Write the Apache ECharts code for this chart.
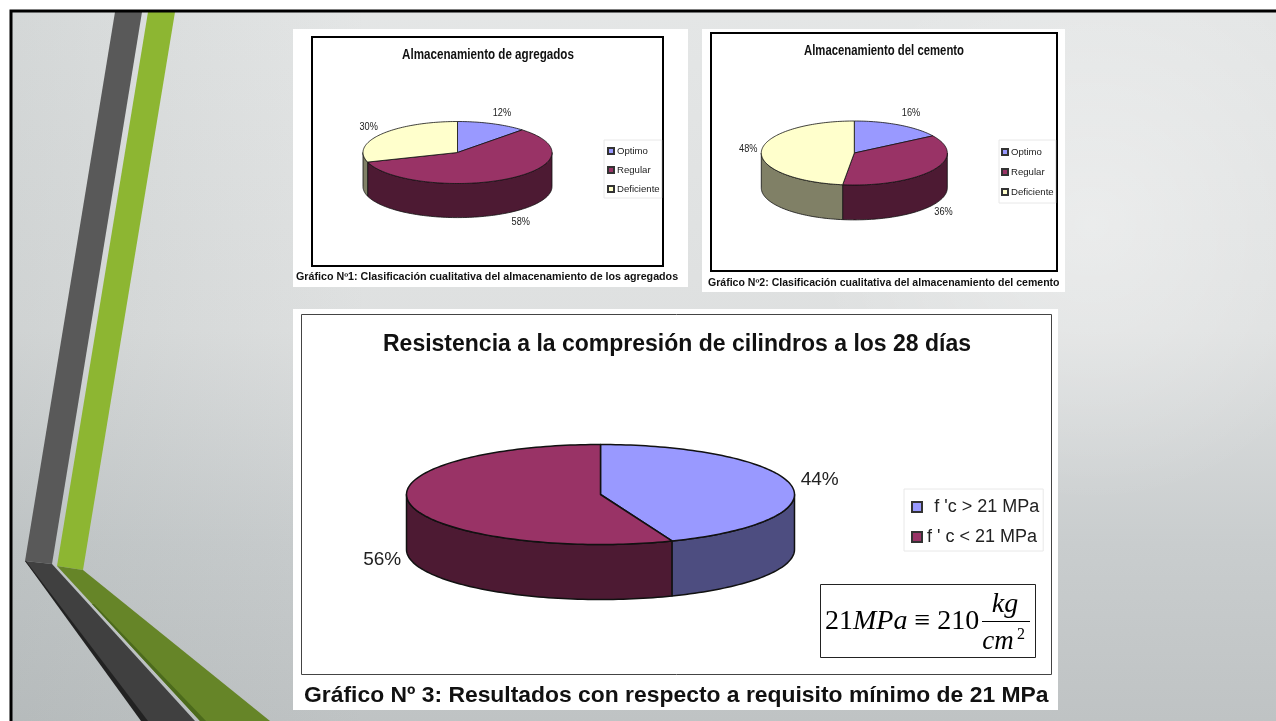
<!DOCTYPE html>
<html>
<head>
<meta charset="utf-8">
<style>html,body{margin:0;padding:0;background:#fff}#c{width:1276px;height:721px}</style>
<script src="https://cdn.jsdelivr.net/npm/echarts@6/dist/echarts.min.js"></script>
</head>
<body>
<div id="c"></div>
<script>
// ---- data ----
const storageCategories = ['Optimo', 'Regular', 'Deficiente'];
const aggregateValues = [12, 58, 30];
const cementValues = [16, 36, 48];
const strengthCategories = ['\u2009\u2009f \'c > 21 MPa', 'f \' c < 21 MPa'];
const strengthValues = [44, 56];
const aggregateTitle = 'Almacenamiento de agregados';
const cementTitle = 'Almacenamiento del cemento';
const strengthTitle = 'Resistencia a la compresión de cilindros a los 28 días';
const aggregateCaption = 'Gráfico Nº1: Clasificación cualitativa del almacenamiento de los agregados';
const cementCaption = 'Gráfico Nº2: Clasificación cualitativa del almacenamiento del cemento';
const strengthCaption = 'Gráfico Nº 3: Resultados con respecto a requisito mínimo de 21 MPa';

// ---- styling / layout ----
const topColors = ['#9999FF', '#993366', '#FFFFCC'];
const sideColors = ['#4D4D80', '#4D1A33', '#808066'];
const SANS = '"Liberation Sans",Arial,sans-serif';
const SERIF = '"Liberation Serif","Times New Roman",serif';

const charts = [
  {box: {cx: 457.5, cy: 152.5, rx: 94.5, ry: 31}, depth: 1.1, values: aggregateValues, names: storageCategories,
   labelAt: [[.47, 1.28], [.67, -2.24], [-.94, .82]], size: 11.5, squeeze: .8, line: .8},
  {box: {cx: 854.3, cy: 153, rx: 93, ry: 32}, depth: 1.09, values: cementValues, names: storageCategories,
   labelAt: [[.61, 1.25], [.96, -1.84], [-1.14, .12]], size: 11.5, squeeze: .8, line: .8},
  {box: {cx: 600.5, cy: 494.5, rx: 194, ry: 50}, depth: 1.1, values: strengthValues, names: strengthCategories,
   labelAt: [[1.13, .3], [-1.125, -1.3]], size: 19, squeeze: 1, line: 1.5}
];

function sliceSeries(chart, chartIndex) {
  const total = chart.values.reduce((a, b) => a + b, 0);
  let running = 0;
  return chart.values.map((value, i) => {
    const startDeg = running / total * 360;
    running += value;
    const endDeg = running / total * 360;
    const renderItem = (params, api) => {
      const rim = (deg, drop) => {
        const a = deg * Math.PI / 180;
        return api.coord([Math.sin(a), Math.cos(a) - drop]);
      };
      const arc = (from, to, drop) => {
        const pts = [];
        const n = Math.max(2, Math.ceil((to - from) / 1.5));
        for (let k = 0; k <= n; k++) pts.push(rim(from + (to - from) * k / n, drop));
        return pts;
      };
      const children = [];
      const sideFrom = Math.max(startDeg, 90), sideTo = Math.min(endDeg, 270);
      if (sideTo > sideFrom) {
        children.push({
          type: 'polygon',
          shape: {points: arc(sideFrom, sideTo, 0).concat(arc(sideFrom, sideTo, chart.depth).reverse())},
          style: {fill: sideColors[i], stroke: '#111', lineWidth: chart.line, lineJoin: 'round'}
        });
      }
      children.push({
        type: 'polygon',
        shape: {points: [api.coord([0, 0])].concat(arc(startDeg, endDeg, 0))},
        style: {fill: topColors[i], stroke: '#111', lineWidth: chart.line, lineJoin: 'round'}
      });
      const at = api.coord(chart.labelAt[i]);
      children.push({
        type: 'text', x: at[0], y: at[1], scaleX: chart.squeeze,
        style: {text: api.value(2) + '%', fill: '#222',
          font: chart.size + 'px ' + SANS, textAlign: 'center', textVerticalAlign: 'middle'}
      });
      return {type: 'group', children};
    };
    return {
      type: 'custom', name: chart.names[i], xAxisIndex: chartIndex, yAxisIndex: chartIndex,
      clip: false, silent: true, coordinateSystem: 'cartesian2d', renderItem,
      itemStyle: {color: topColors[i], borderColor: '#333', borderWidth: .8},
      data: [[0, 0, value]], z: 3
    };
  });
}

const frame = (x, y, w, h, color, lw) => ({type: 'rect', z: -5, shape: {x, y, width: w, height: h}, style: {fill: 'none', stroke: color, lineWidth: lw}});
const panel = (x, y, w, h) => ({type: 'rect', z: -8, shape: {x, y, width: w, height: h}, style: {fill: '#fff'}});
const poly = (points, fill) => ({type: 'polygon', z: -9, shape: {points}, style: {fill}});
const boldText = (x, y, text, size, scaleX, align) => ({type: 'text', z: 5, x, y, scaleX, style: {text, fill: '#111', font: 'bold ' + size + 'px ' + SANS, textAlign: align || 'left', textVerticalAlign: 'middle'}});
const bgRect = (z, fill) => ({type: 'rect', z, shape: {x: 11, y: 11, width: 1265, height: 710}, style: {fill}});
const G = echarts.graphic;

const graphics = [
  bgRect(-14, new G.LinearGradient(0, 0, 0, 1, [
    {offset: 0, color: '#e4e6e6'}, {offset: .45, color: '#dee0e0'}, {offset: .75, color: '#c9cdce'}, {offset: 1, color: '#bfc3c4'}])),
  bgRect(-13, new G.LinearGradient(0, 0, 1, 0, [
    {offset: 0, color: 'rgba(140,150,150,.18)'}, {offset: .28, color: 'rgba(140,150,150,0)'}])),
  {type: 'rect', z: -12, shape: {x: 700, y: 11, width: 576, height: 560}, style: {
    fill: new G.RadialGradient(0.68, 0.38, 0.5, [
      {offset: 0, color: 'rgba(255,255,255,.35)'}, {offset: 1, color: 'rgba(255,255,255,0)'}])}},
  poly([[115, 12], [142, 12], [52, 564], [25, 561]], '#595959'),
  poly([[148, 12], [175, 12], [83, 570], [57, 566]], '#8DB632'),
  poly([[25, 561], [52, 564], [195, 721], [147, 721]], '#404040'),
  poly([[25, 561], [26, 561], [148, 721], [141, 721]], '#222222'),
  poly([[57, 566], [83, 570], [270, 721], [200, 721]], '#668528'),
  poly([[92, 604], [94, 604], [206, 721], [200, 721]], '#4c6a1c'),
  {type: 'polyline', z: -7, shape: {points: [[1276, 11], [11, 11], [11, 721]]}, style: {fill: 'none', stroke: '#000', lineWidth: 3}},
  panel(293, 29, 395, 258), panel(702, 29, 363, 263), panel(293, 309, 765, 401),
  frame(312, 37, 351, 229, '#000', 2),
  frame(711, 33, 346, 238, '#000', 2),
  frame(301.5, 314.5, 750, 360, '#444', 1),
  frame(820.5, 584.5, 215, 73, '#222', 1),
  boldText(488, 55, aggregateTitle, 14, .83, 'center'),
  boldText(884, 51, cementTitle, 14, .81, 'center'),
  boldText(296, 277, aggregateCaption, 10, 1.07),
  boldText(708, 283, cementCaption, 10, 1.055),
  boldText(304, 696, strengthCaption, 22, 1.04),
  {type: 'text', z: 5, style: {x: 825, y: 622, text: '{n|21}{i|MPa}{n| ≡ 210}', textVerticalAlign: 'middle', fill: '#000',
    rich: {n: {font: '28px ' + SERIF, fill: '#000'}, i: {font: 'italic 28px ' + SERIF, fill: '#000'}}}},
  {type: 'text', z: 5, style: {x: 1005, y: 605, text: 'kg', textAlign: 'center', textVerticalAlign: 'middle', fill: '#000', font: 'italic 28px ' + SERIF}},
  {type: 'text', z: 5, style: {x: 998, y: 642, text: 'cm', textAlign: 'center', textVerticalAlign: 'middle', fill: '#000', font: 'italic 27px ' + SERIF}},
  {type: 'text', z: 5, style: {x: 1021, y: 635, text: '2', textAlign: 'center', textVerticalAlign: 'middle', fill: '#000', font: '16px ' + SERIF}},
  {type: 'line', z: 5, shape: {x1: 982, y1: 621.5, x2: 1030, y2: 621.5}, style: {stroke: '#000', lineWidth: 1}}
];

const legendBase = {orient: 'vertical', selectedMode: false, icon: 'rect', backgroundColor: '#fff', borderColor: '#e8e8e8', borderWidth: 1};
const option = {
  animation: false,
  backgroundColor: '#fff',
  title: [
    {text: strengthTitle, left: 672, top: 328, textAlign: 'center', textStyle: {fontFamily: SANS, fontWeight: 'bold', fontSize: 23, color: '#111'}}
  ],
  legend: [
    Object.assign({}, legendBase, {left: 604, top: 140, padding: [6, 2, 4, 3], itemGap: 9, itemWidth: 6, itemHeight: 6,
      data: storageCategories, textStyle: {fontFamily: SANS, fontSize: 9.6, color: '#222', padding: [0, 0, 0, -2]}}),
    Object.assign({}, legendBase, {left: 999, top: 140, padding: [7, 2, 6, 2], itemGap: 10, itemWidth: 6, itemHeight: 6,
      data: storageCategories, textStyle: {fontFamily: SANS, fontSize: 9.6, color: '#222', padding: [0, 0, 0, -2]}}),
    Object.assign({}, legendBase, {left: 904, top: 489, padding: [9, 4, 5, 7], itemGap: 12, itemWidth: 10, itemHeight: 10,
      data: strengthCategories, textStyle: {fontFamily: SANS, fontSize: 18, color: '#222'}})
  ],
  grid: charts.map(c => ({left: c.box.cx - c.box.rx, top: c.box.cy - c.box.ry, width: 2 * c.box.rx, height: 2 * c.box.ry, show: false})),
  xAxis: charts.map((c, i) => ({type: 'value', gridIndex: i, min: -1, max: 1, show: false})),
  yAxis: charts.map((c, i) => ({type: 'value', gridIndex: i, min: -1, max: 1, show: false})),
  graphic: {elements: graphics},
  series: charts.flatMap(sliceSeries)
};
const chart = echarts.init(document.getElementById('c'), null, {renderer: 'canvas'});
chart.setOption(option);
</script>
</body>
</html>
